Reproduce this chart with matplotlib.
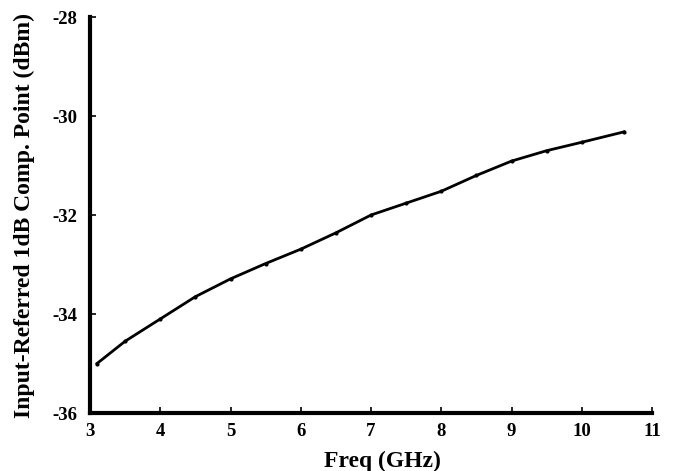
import matplotlib
matplotlib.use("Agg")
import matplotlib.pyplot as plt

freq = [3.1, 3.5, 4, 4.5, 5, 5.5, 6, 6.5, 7, 7.5, 8, 8.5, 9, 9.5, 10, 10.6]
p1db = [-35.0, -34.55, -34.10, -33.65, -33.29, -32.98, -32.69, -32.36, -32.00, -31.76, -31.52, -31.20, -30.91, -30.70, -30.53, -30.32]

xticks = [3, 4, 5, 6, 7, 8, 9, 10, 11]
yticks = [-36, -34, -32, -30, -28]

plt.rcParams['font.family'] = ['Liberation Serif', 'DejaVu Serif']
plt.rcParams['font.weight'] = 'bold'

fig = plt.figure(figsize=(6.73, 4.71), dpi=100)
ax = fig.add_axes([0.1337, 0.1231, 0.969 - 0.1337, 0.9639 - 0.1231])

ax.plot(freq, p1db, color='black', linewidth=2.0, marker='o', markersize=2.0)

ax.set_xlim(3, 11)
ax.set_ylim(-36, -28)
ax.set_xticks(xticks)
ax.set_yticks(yticks)
ax.set_xticklabels([str(t) for t in xticks], fontsize=13.5, fontweight='bold')
ax.set_yticklabels([str(t) for t in yticks], fontsize=13.5, fontweight='bold')

for s in ['top', 'right']:
    ax.spines[s].set_visible(False)
for s in ['left', 'bottom']:
    ax.spines[s].set_linewidth(3)

ax.tick_params(axis='x', direction='in', length=4, width=1.2, pad=7)
ax.tick_params(axis='y', direction='in', length=4, width=1.2, pad=9)

ax.set_xlabel('Freq (GHz)', fontsize=17, fontweight='bold')
ax.set_ylabel('Input-Referred 1dB Comp. Point (dBm)', fontsize=17, fontweight='bold')
ax.xaxis.set_label_coords((382 - 90) / 562, -0.095)
ax.yaxis.set_label_coords(-0.097, 0.5)

fig.savefig('out.png', dpi=100)
